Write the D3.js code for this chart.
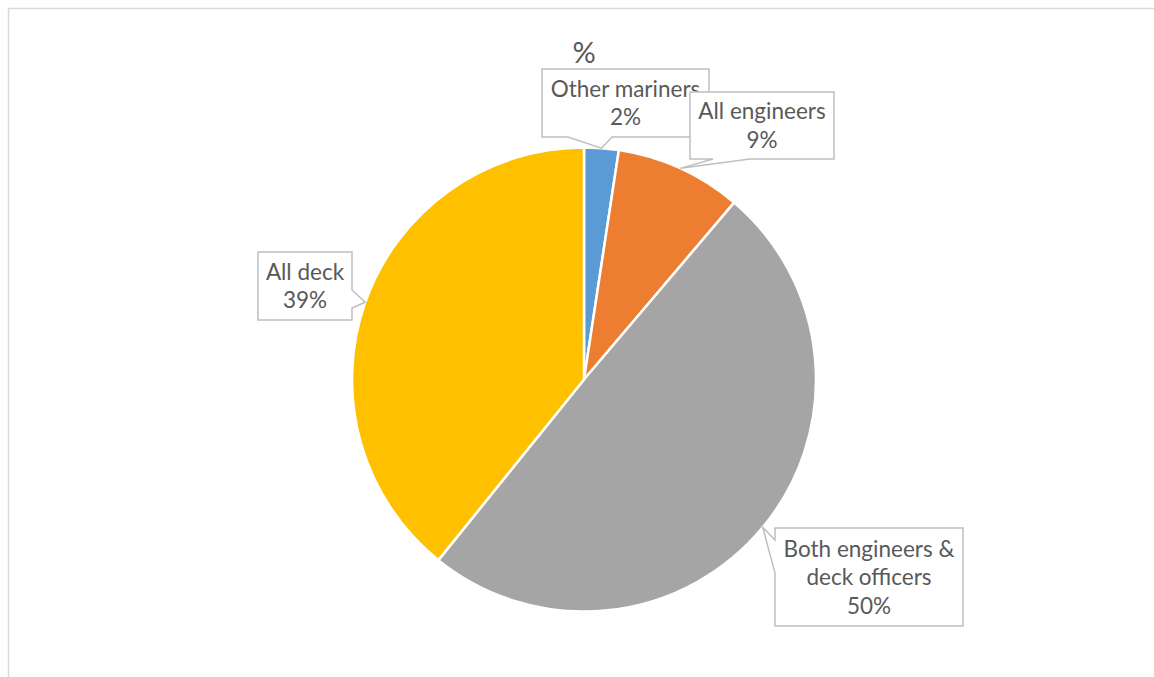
<!DOCTYPE html>
<html>
<head>
<meta charset="utf-8">
<script src="https://cdn.jsdelivr.net/npm/d3@7"></script>
<style>
  html, body { margin: 0; padding: 0; background: #fff; }
  svg { display: block; }
</style>
</head>
<body>
<svg id="chart" width="1154" height="677"></svg>
<script>
// Share of mariners by credential type (%)
const categories = ["Other mariners", "All engineers", "Both engineers & deck officers", "All deck"];
const labelLines = [["Other mariners"], ["All engineers"], ["Both engineers &", "deck officers"], ["All deck"]];
const values = [2.4, 8.8, 49.6, 39.2];
const colors = ["#5b9bd5", "#ed7d31", "#a5a5a5", "#ffc000"];
const title = "%";

const W = 1154, H = 677;
const cx = 584, cy = 379.5, R = 232;
const font = "Lato, 'Open Sans', sans-serif";
const textColor = "#595959";

// Callout box placement (left, top, width, height) and which side carries the pointer
const boxes = [
  { x: 542, y: 69,  w: 167, h: 68, side: "bottom", base: [26, 70] },
  { x: 690, y: 92,  w: 144, h: 67, side: "bottom", base: [23, 60] },
  { x: 775, y: 528, w: 188, h: 98, side: "left",   base: [12, 45] },
  { x: 258, y: 252, w: 94,  h: 68, side: "right",  base: [38, 56] }
];

const svg = d3.select("#chart");

// chart area outline
svg.append("rect")
  .attr("x", 8.5).attr("y", 8.5)
  .attr("width", W + 20).attr("height", H + 20)
  .attr("fill", "none").attr("stroke", "#d9d9d9").attr("stroke-width", 1.5);

// title
svg.append("text")
  .attr("x", cx).attr("y", 63)
  .attr("text-anchor", "middle")
  .attr("font-family", font).attr("font-size", 29)
  .attr("fill", textColor)
  .text(title);

const data = categories.map((c, i) => ({ name: c, value: values[i], color: colors[i], lines: labelLines[i], box: boxes[i] }));

const pie = d3.pie().value(d => d.value).sort(null);
const arcs = pie(data);
const arc = d3.arc().innerRadius(0).outerRadius(R);

const g = svg.append("g").attr("transform", `translate(${cx},${cy})`);
g.selectAll("path")
  .data(arcs)
  .join("path")
  .attr("d", arc)
  .attr("fill", d => d.data.color)
  .attr("stroke", "#fff")
  .attr("stroke-width", 2.5)
  .attr("stroke-linejoin", "round");

// callouts with pointers to each slice's outer edge
const total = d3.sum(values);
arcs.forEach(a => {
  const b = a.data.box;
  const mid = (a.startAngle + a.endAngle) / 2;
  const tx = cx + R * Math.sin(mid), ty = cy - R * Math.cos(mid);
  const x0 = b.x, y0 = b.y, x1 = b.x + b.w, y1 = b.y + b.h;
  const p = d3.path();
  if (b.side === "bottom") {
    p.moveTo(x0, y0); p.lineTo(x1, y0); p.lineTo(x1, y1);
    p.lineTo(x0 + b.base[1], y1); p.lineTo(tx, ty); p.lineTo(x0 + b.base[0], y1);
    p.lineTo(x0, y1); p.closePath();
  } else if (b.side === "right") {
    p.moveTo(x0, y0); p.lineTo(x1, y0); p.lineTo(x1, y0 + b.base[0]);
    p.lineTo(tx, ty); p.lineTo(x1, y0 + b.base[1]); p.lineTo(x1, y1);
    p.lineTo(x0, y1); p.closePath();
  } else {
    p.moveTo(x0, y0 + b.base[0]); p.lineTo(tx, ty); p.lineTo(x0, y0 + b.base[1]);
    p.lineTo(x0, y1); p.lineTo(x1, y1); p.lineTo(x1, y0); p.lineTo(x0, y0);
    p.closePath();
  }
  const cg = svg.append("g");
  cg.append("path")
    .attr("d", p.toString())
    .attr("fill", "#fff")
    .attr("stroke", "#bfbfbf")
    .attr("stroke-width", 1.5)
    .attr("stroke-linejoin", "miter");

  const lines = a.data.lines.concat([Math.round(a.data.value / total * 100) + "%"]);
  const lh = 28.5;
  const midX = (x0 + x1) / 2, midY = (y0 + y1) / 2;
  const firstY = midY - (lines.length - 1) * lh / 2;
  const t = cg.append("text")
    .attr("text-anchor", "middle")
    .attr("font-family", font).attr("font-size", 22.5)
    .attr("fill", textColor);
  lines.forEach((ln, i) => {
    t.append("tspan")
      .attr("x", midX)
      .attr("y", firstY + i * lh)
      .attr("dy", "0.36em")
      .text(ln);
  });
});
</script>
</body>
</html>
